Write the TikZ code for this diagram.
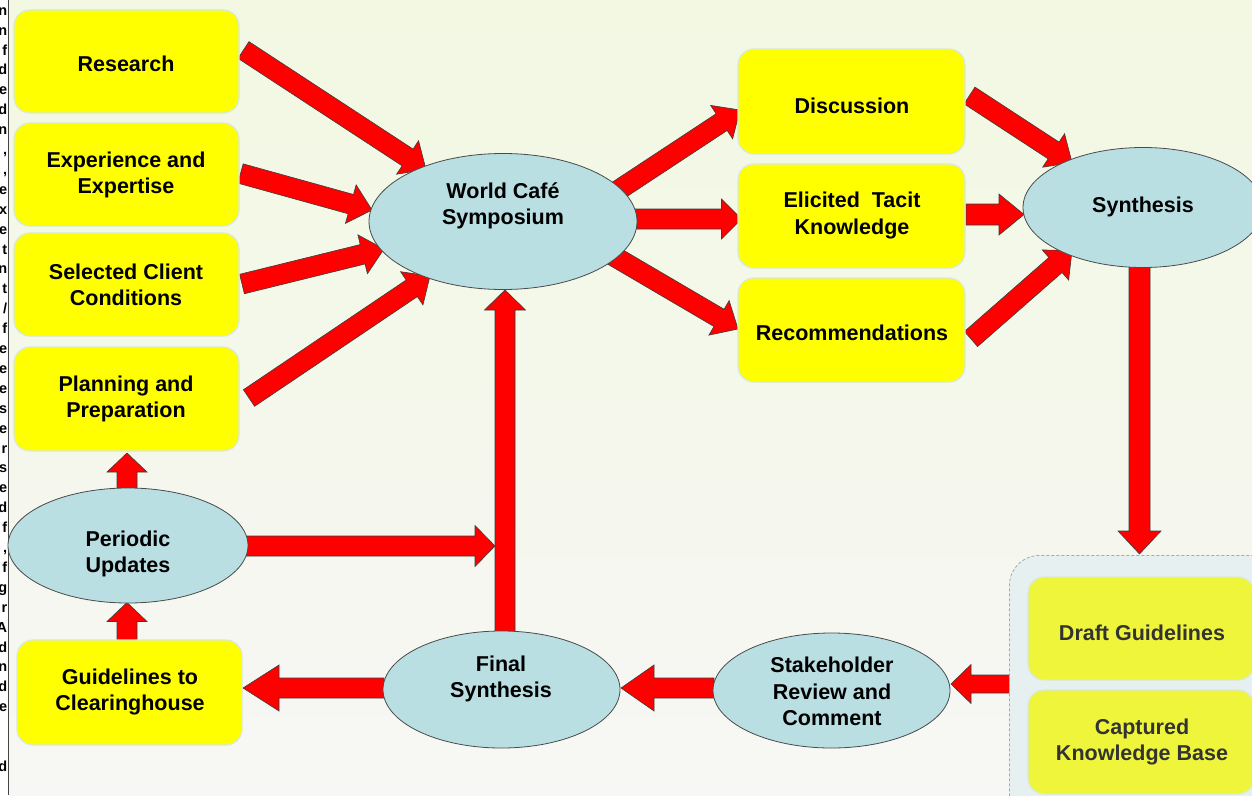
\documentclass[tikz,border=0pt]{standalone}
\usepackage{fontspec}
\setmainfont{Liberation Sans}
\usetikzlibrary{shapes.geometric,calc}
\pgfdeclarelayer{back}
\pgfdeclarelayer{mid}
\pgfsetlayers{back,mid,main}

\definecolor{bgtop}{HTML}{F2F8E2}
\definecolor{bgbot}{HTML}{F7F7F5}
\definecolor{boxyel}{HTML}{FFFF00}
\definecolor{boxedge}{HTML}{D9EAD6}
\definecolor{ellfill}{HTML}{B9DFE3}
\definecolor{elledge}{HTML}{4A4A4A}
\definecolor{arrred}{HTML}{FF0000}
\definecolor{arredge}{HTML}{3C3C3C}
\definecolor{contfill}{HTML}{E6F0F0}
\definecolor{contedge}{HTML}{A8A8A8}
\definecolor{paleyel}{HTML}{EEF53A}
\definecolor{darktext}{HTML}{333333}
\definecolor{stripline}{HTML}{444444}

\tikzset{
  ybox/.style={draw=boxedge, line width=1.2pt, fill=boxyel, rounded corners=16pt,
    minimum width=225pt, minimum height=103pt, inner sep=0pt},
  pbox/.style={draw=boxedge, line width=1.2pt, fill=paleyel, rounded corners=16pt,
    minimum width=226pt, minimum height=103pt, inner sep=0pt},
  ell/.style={ellipse, draw=elledge, line width=0.8pt, fill=ellfill, inner sep=0pt},
  btext/.style={align=center, inner sep=0pt, font=\bfseries\fontsize{21.5}{26.5}\selectfont},
  ptext/.style={btext, text=darktext},
  barrow/.style={fill=arrred, draw=arredge, line width=0.6pt, line join=miter},
  leftch/.style={font=\bfseries\fontsize{14.5}{16}\selectfont, inner sep=0pt, anchor=base east},
}

% block arrow: #1 tail, #2 tip, #3 half shaft, #4 half head, #5 head length
\newcommand\blockarr[5]{%
  \coordinate (bs) at #1;
  \coordinate (be) at #2;
  \coordinate (bh) at ($(be)!#5!(bs)$);
  \draw[barrow] ($(bs)!#3!90:(be)$) -- ($(bh)!#3!90:(be)$) -- ($(bh)!#4!90:(be)$)
    -- (be) -- ($(bh)!#4!-90:(be)$) -- ($(bh)!#3!-90:(be)$) -- ($(bs)!#3!-90:(be)$) -- cycle;}

\begin{document}
\begin{tikzpicture}[x=1pt,y=-1pt]
\useasboundingbox (0,0) rectangle (1252,795);
\clip (0,0) rectangle (1252,795);

\begin{pgfonlayer}{back}
  \fill[white] (0,0) rectangle (9,795);
  \shade[top color=bgtop, bottom color=bgbot] (9,0) rectangle (1252,795);
  \draw[stripline, line width=1pt] (8.5,0) -- (8.5,795);
\end{pgfonlayer}

% cut-off text column at the left edge
\foreach \i/\c in {0/n,1/n,2/f,3/d,4/e,5/d,6/n,7/{,},8/{,},9/e,10/x,11/e,12/t,13/n,14/t,15/{/},
  16/f,17/e,18/e,19/e,20/s,21/e,22/r,23/s,24/e,25/d,26/f,27/{,},28/f,29/g,30/r,31/A,32/d,
  33/n,34/d,35/e,38/d}
  \node[leftch] (lc\i) at (7.4,{15.2+19.9*\i}) {\c};

% yellow boxes
\node[ybox] (research) at (126.5,61.5) {};
\node[ybox] (expert) at (126.5,174.5) {};
\node[ybox] (select) at (126.5,284.5) {};
\node[ybox, minimum height=104pt] (plan) at (126.5,399) {};
\node[ybox, minimum height=105pt] (guide) at (129.5,692.5) {};
\node[ybox, minimum width=227pt, minimum height=105pt] (disc) at (851.5,101.5) {};
\node[ybox, minimum width=227pt, minimum height=104pt] (elic) at (851.5,216) {};
\node[ybox, minimum width=227pt, minimum height=104pt] (recom) at (851.5,330) {};

% container with pale boxes
\node[draw=contedge, dash pattern=on 3pt off 2pt, line width=0.8pt, fill=contfill,
  rounded corners=30pt, minimum width=290pt, minimum height=285pt, anchor=north west,
  inner sep=0pt] (cont) at (1009,555) {};
\node[pbox] (draft) at (1141,628.5) {};
\node[pbox, minimum height=104pt] (capt) at (1141,742) {};

% ellipses
\node[ell, minimum width=268pt, minimum height=136pt] (wc) at (503,221.5) {};
\node[ell, minimum width=240pt, minimum height=120pt] (syn) at (1143,207.5) {};
\node[ell, minimum width=240pt, minimum height=115pt] (per) at (128,545.5) {};
\node[ell, minimum width=237pt, minimum height=117pt] (fin) at (501.5,689.5) {};
\node[ell, minimum width=237pt, minimum height=115pt] (stake) at (831.5,690.5) {};

% texts
\node[btext] (research-t) at (126,64) {Research};
\node[btext] (expert-t) at (126,175) {Experience and\\Expertise};
\node[btext] (select-t) at (126,285) {Selected Client\\Conditions};
\node[btext] (plan-t) at (126,399) {Planning and\\Preparation};
\node[btext] (guide-t) at (130,692) {Guidelines to\\Clearinghouse};
\node[btext] (disc-t) at (852,106) {Discussion};
\node[btext] (elic-t) at (852,215.5) {Elicited\ \ Tacit\\Knowledge};
\node[btext] (recom-t) at (852,333) {Recommendations};
\node[ptext] (draft-t) at (1142,633) {Draft Guidelines};
\node[ptext] (capt-t) at (1142,742) {Captured\\Knowledge Base};
\node[btext] (wc-t) at (503,206) {World Café\\Symposium};
\node[btext] (syn-t) at (1143,206.5) {Synthesis};
\node[btext] (per-t) at (128,554) {Periodic\\Updates};
\node[btext] (fin-t) at (501,679) {Final\\Synthesis};
\node[btext] (stake-t) at (832,691.5) {Stakeholder\\Review and\\Comment};

\coordinate (vjoin) at ($(fin)+(-6.5,-143.5)$);

\begin{pgfonlayer}{mid}
  \blockarr{($(research)+(117,-11.5)$)}{($(wc)+(-77,-52)$)}{10pt}{20pt}{22pt}
  \blockarr{($(expert)+(114,-1)$)}{($(wc)+(-131,-11.5)$)}{10pt}{20pt}{22pt}
  \blockarr{($(select)+(115.5,-0.5)$)}{($(wc)+(-119,27.5)$)}{10pt}{20pt}{22pt}
  \blockarr{($(plan)+(122.5,-1)$)}{($(wc)+(-73,54.5)$)}{10pt}{20pt}{22pt}
  \blockarr{($(wc)+(111,-28.5)$)}{($(disc)+(-111.5,8.5)$)}{10pt}{20pt}{22pt}
  \blockarr{($(wc)+(120,-2.5)$)}{($(elic)+(-110,3)$)}{10pt}{20pt}{20pt}
  \blockarr{($(wc)+(102,29.5)$)}{($(recom)+(-113.5,-1)$)}{10pt}{20pt}{22pt}
  \blockarr{($(disc)+(118,-6)$)}{($(syn)+(-71,-45)$)}{10pt}{20pt}{22pt}
  \blockarr{($(elic)+(114.5,-1.5)$)}{($(syn)+(-119,7)$)}{10.5pt}{20.5pt}{25pt}
  \blockarr{($(recom)+(119.5,9)$)}{($(syn)+(-71,43)$)}{10pt}{20pt}{22pt}
  \blockarr{($(syn)+(-3.5,55)$)}{($(cont.north west)+(130.5,-1)$)}{10.5pt}{21.5pt}{23pt}
  \blockarr{($(cont.north west)+(1.5,129)$)}{($(stake)+(119.5,-6.5)$)}{9pt}{19.5pt}{20pt}
  \blockarr{($(stake)+(-117.5,-2.5)$)}{($(fin)+(119.5,-1.5)$)}{10pt}{23pt}{33pt}
  \blockarr{($(fin)+(-117.5,-1.5)$)}{($(guide)+(113.5,-4.5)$)}{10pt}{23pt}{36pt}
  \blockarr{($(guide)+(-2.5,-51.5)$)}{($(per)+(-1,57)$)}{10pt}{20pt}{19pt}
  \blockarr{($(per)+(-1,-55)$)}{($(plan)+(0.5,54)$)}{10pt}{20pt}{19pt}
  \blockarr{($(per)+(112,0.5)$)}{(vjoin)}{10pt}{20.5pt}{20pt}
  \blockarr{($(fin)+(3.5,-49.5)$)}{($(wc)+(2,68.5)$)}{10pt}{20.5pt}{20pt}
\end{pgfonlayer}
\end{tikzpicture}
\end{document}
